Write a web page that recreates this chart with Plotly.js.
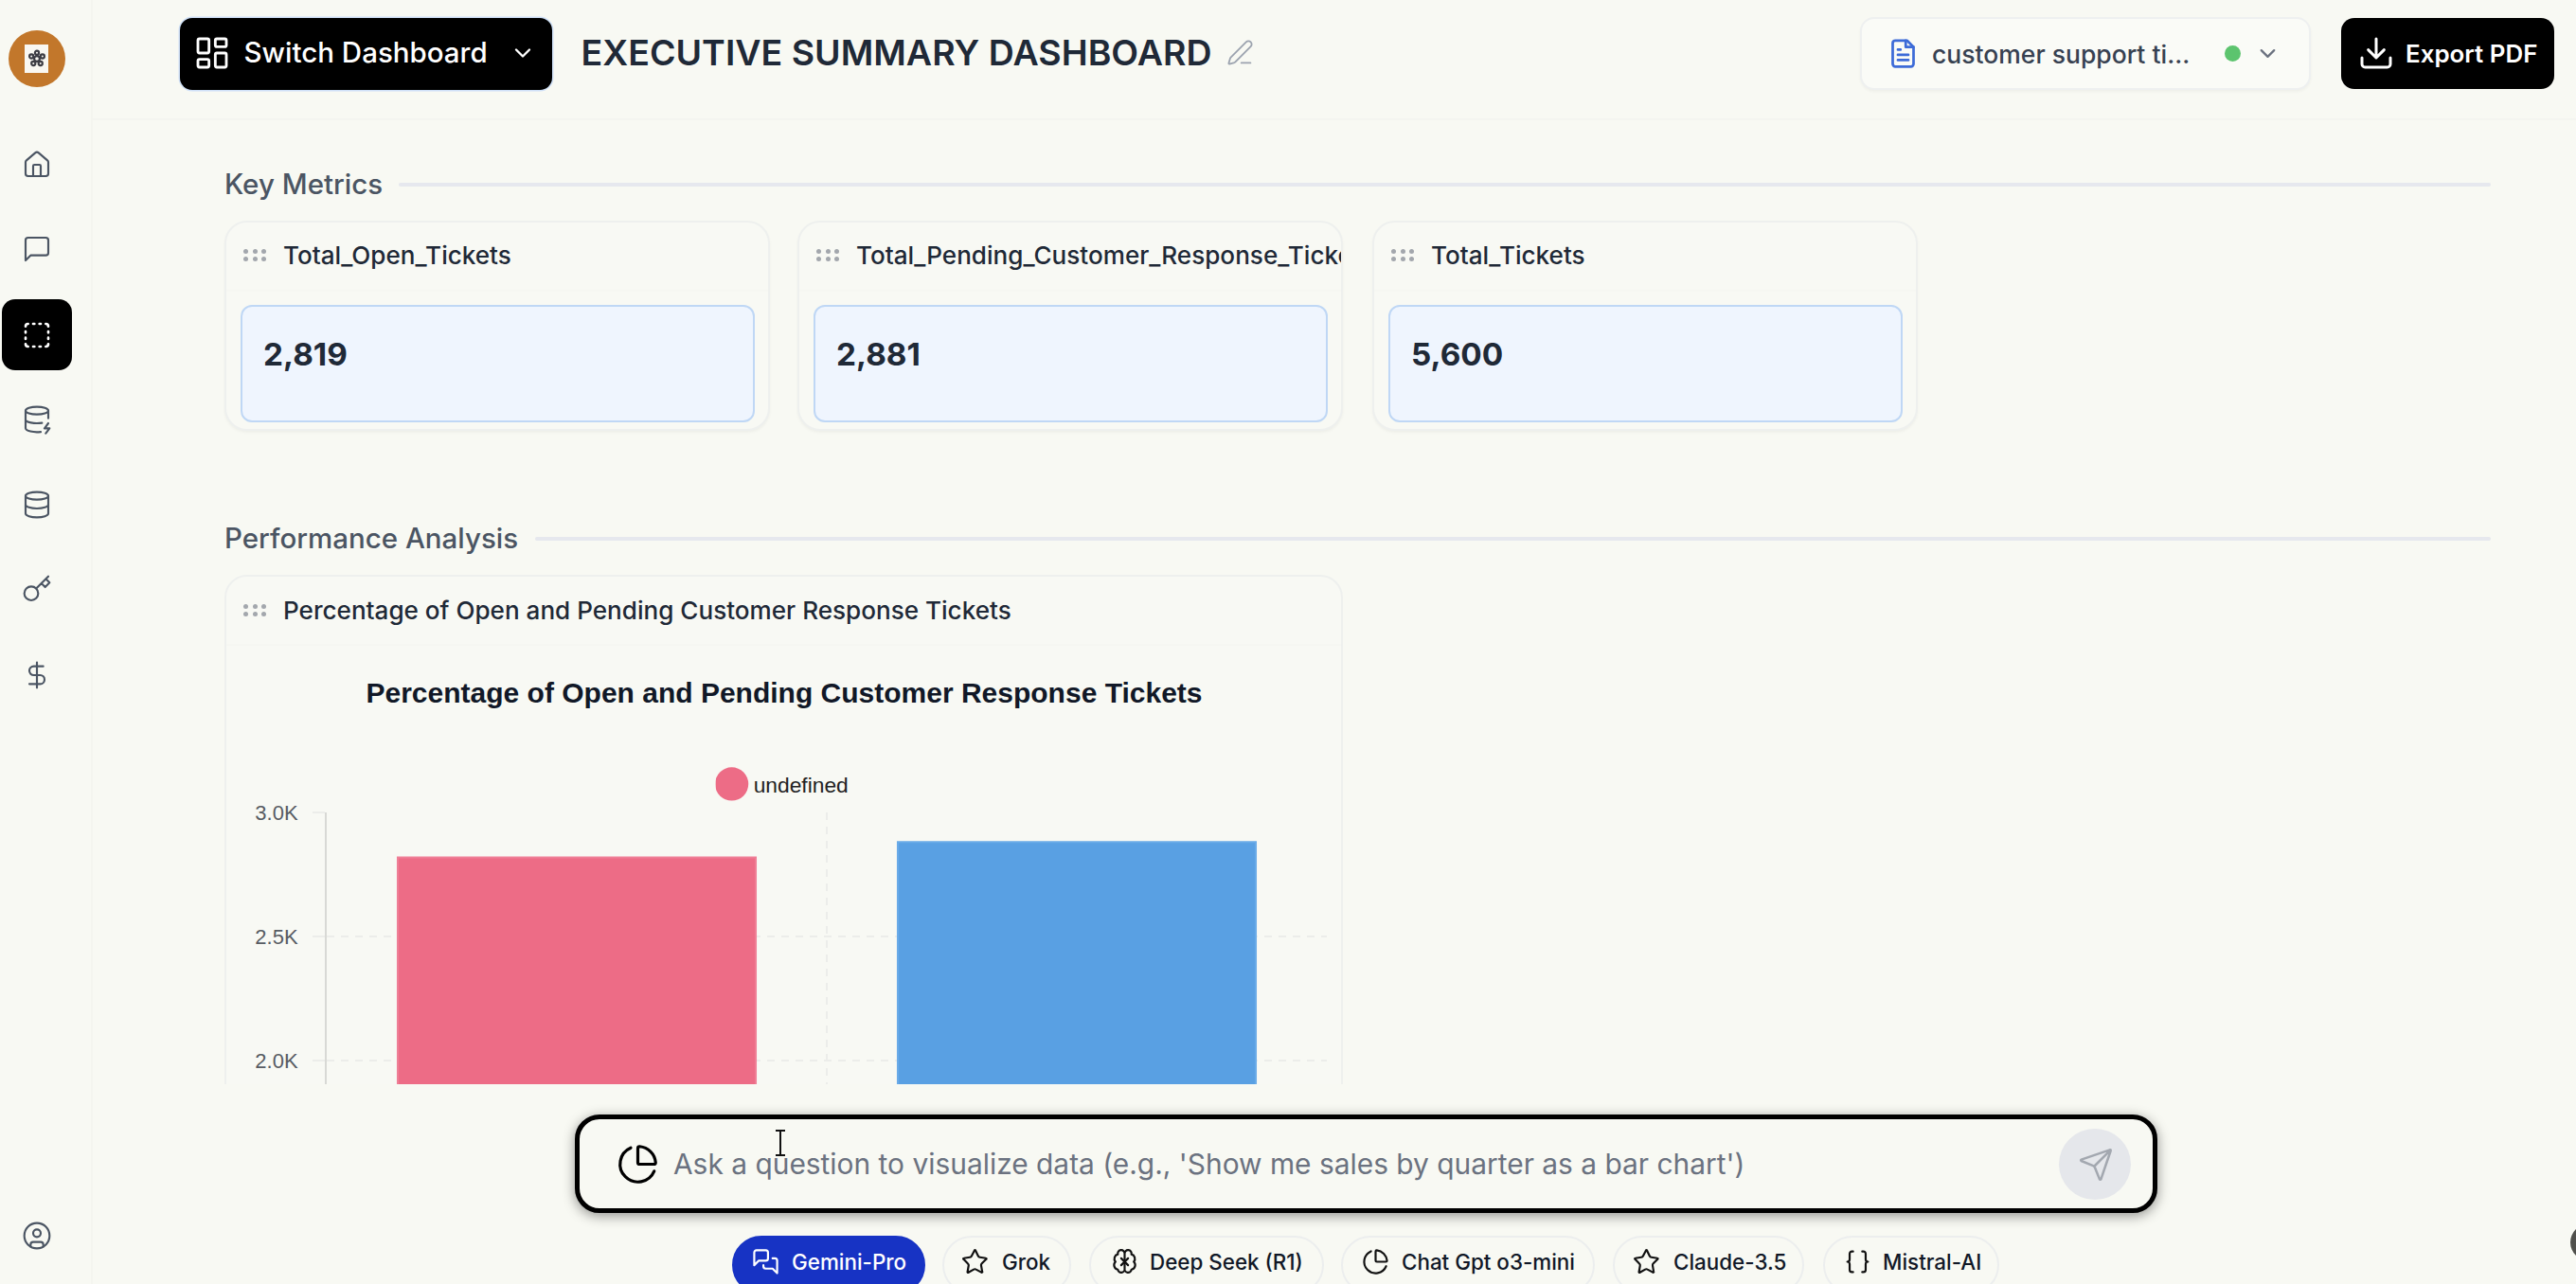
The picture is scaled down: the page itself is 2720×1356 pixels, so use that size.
<!DOCTYPE html>
<html><head><meta charset="utf-8"><title>Executive Summary Dashboard</title>
<script src="https://cdn.plot.ly/plotly-3.0.1.min.js"></script>
<style>
html,body{margin:0;padding:0;width:2720px;height:1356px;overflow:hidden;background:#f8f9f3;font-family:Inter,sans-serif;}
.a{position:absolute;box-sizing:border-box;}
.t{position:absolute;white-space:nowrap;line-height:1;transform:translateY(-50%);}
.ic{position:absolute;fill:none;stroke-linecap:round;stroke-linejoin:round;}
.card{position:absolute;box-sizing:border-box;border:2.5px solid #eef0ee;border-radius:24px;background:#f8f9f4;box-shadow:0 2px 3px rgba(0,0,0,.04);overflow:hidden;}
.chip{position:absolute;top:1305px;height:62px;box-sizing:border-box;border:2px solid #eceeee;border-radius:31px;}
</style></head><body>
<div class="a" style="left:0;top:0;width:98px;height:1356px;background:#f8f9f3;border-right:2px solid #f4f5ef"></div>
<div class="a" style="left:98px;top:125px;width:2622px;height:2px;background:#f4f5f0"></div>
<div id="chrome"></div>
<div id="scroll" class="a" style="left:0;top:127px;width:2720px;height:1018px;overflow:hidden">
  <div id="cards"></div>
  <div id="chartcard" class="card" style="left:237px;top:480px;width:1181px;height:1100px;box-shadow:none"></div>
  <div id="chart" class="a" style="left:238px;top:553px;width:1180px;height:465px"></div>
</div>
<div id="bottom"></div>
<script>
// ---- data ----
const metricNames = ["Total_Open_Tickets","Total_Pending_Customer_Response_Tickets","Total_Tickets"];
const metricValues = [2819,2881,5600];
const barCategories = ["Total_Open_Tickets","Total_Pending_Customer_Response_Tickets"];
const barValues = [2819,2881];
const barColors = ["#ed6c86","#59a0e3"];
const barEdges = ["#ef7f96","#6aabe8"];
const tickVals = [2000,2500,3000];
const tickText = ["2.0K","2.5K","3.0K"];
const chartTitle = "Percentage of Open and Pending Customer Response Tickets";
const legendName = "undefined";
const modelNames = ["Gemini-Pro","Grok","Deep Seek (R1)","Chat Gpt o3-mini","Claude-3.5","Mistral-AI"];

// ---- chrome helpers ----
function text(parent,s,x,y,size,weight,color,extra){const d=document.createElement('div');d.className='t';d.textContent=s;
 d.style.cssText=`left:${x}px;top:${y}px;font-size:${size}px;font-weight:${weight};color:${color};${extra||''}`;parent.appendChild(d);return d;}
function box(parent,x,y,w,h,css){const d=document.createElement('div');d.className='a';d.style.cssText=`left:${x}px;top:${y}px;width:${w}px;height:${h}px;${css}`;parent.appendChild(d);return d;}
const P={
 home:'<path d="M15 21v-8a1 1 0 0 0-1-1h-4a1 1 0 0 0-1 1v8"/><path d="M3 10a2 2 0 0 1 .7-1.5l7-6a2 2 0 0 1 2.6 0l7 6a2 2 0 0 1 .7 1.5v9a2 2 0 0 1-2 2H5a2 2 0 0 1-2-2z"/>',
 chat:'<path d="M21 15a2 2 0 0 1-2 2H7l-4 4V5a2 2 0 0 1 2-2h14a2 2 0 0 1 2 2z"/>',
 dashed:'<path d="M5 3a2 2 0 0 0-2 2M9 3h1M14 3h1M19 3a2 2 0 0 1 2 2M21 9v1M21 14v1M21 19a2 2 0 0 1-2 2M15 21h-1M10 21H9M5 21a2 2 0 0 1-2-2M3 15v-1M3 10V9"/>',
 dbzap:'<ellipse cx="12" cy="5" rx="9" ry="3"/><path d="M3 5v14a9 3 0 0 0 12 2.8M21 5v6M3 12a9 3 0 0 0 13 2.7M21 15l-3 4h4l-3 4"/>',
 db:'<ellipse cx="12" cy="5" rx="9" ry="3"/><path d="M3 5v14a9 3 0 0 0 18 0V5"/><path d="M3 12a9 3 0 0 0 18 0"/>',
 key:'<circle cx="7.5" cy="15.5" r="5.5"/><path d="m21 2-9.6 9.6M15.5 7.5l3 3L22 7l-3-3"/>',
 dollar:'<line x1="12" x2="12" y1="2" y2="22"/><path d="M17 5H9.5a3.5 3.5 0 0 0 0 7h5a3.5 3.5 0 0 1 0 7H6"/>',
 user:'<circle cx="12" cy="12" r="10"/><circle cx="12" cy="10" r="3"/><path d="M7 20.7v-1.7a2 2 0 0 1 2-2h6a2 2 0 0 1 2 2v1.7"/>',
 grid:'<rect x="3" y="3" width="7" height="9" rx="1"/><rect x="14" y="3" width="7" height="5" rx="1"/><rect x="14" y="12" width="7" height="9" rx="1"/><rect x="3" y="16" width="7" height="5" rx="1"/>',
 chev:'<path d="m6 9 6 6 6-6"/>',
 pencil:'<path d="M13 21h8"/><path d="M21.2 6.8a2.8 2.8 0 0 0-4-4L3.8 16.2a2 2 0 0 0-.5.8l-1.3 4.4a.5.5 0 0 0 .6.6l4.4-1.3a2 2 0 0 0 .8-.5z"/>',
 doc:'<path d="M15 2H6a2 2 0 0 0-2 2v16a2 2 0 0 0 2 2h12a2 2 0 0 0 2-2V7z"/><path d="M14 2v5h6M16 13H8M16 17H8M10 9H8"/>',
 download:'<path d="M21 15v4a2 2 0 0 1-2 2H5a2 2 0 0 1-2-2v-4M7 10l5 5 5-5M12 15V3"/>',
 pie:'<path d="M21 12c.6 0 1-.4 1-1a10 10 0 0 0-9-9c-.6 0-1 .5-1 1v8a1 1 0 0 0 1 1z"/><path d="M21.2 15.9A10 10 0 1 1 8 2.8"/>',
 send:'<path d="M14.5 21.7a.5.5 0 0 0 .9 0l6.5-19a.5.5 0 0 0-.6-.6l-19 6.5a.5.5 0 0 0 0 .9l7.9 3.2a2 2 0 0 1 1.1 1.1zM21.9 2.1 10.9 13.1"/>',
 msgs:'<path d="M14 9a2 2 0 0 1-2 2H6l-4 4V4a2 2 0 0 1 2-2h8a2 2 0 0 1 2 2z"/><path d="M18 9h2a2 2 0 0 1 2 2v11l-4-4h-6a2 2 0 0 1-2-2v-1"/>',
 star:'<path d="M11.5 2.3a.5.5 0 0 1 1 0l2.3 4.7a2 2 0 0 0 1.5 1.1l5.2.8a.5.5 0 0 1 .3.9l-3.8 3.7a2 2 0 0 0-.6 1.9l.9 5.2a.5.5 0 0 1-.8.6l-4.6-2.5a2 2 0 0 0-2 0L6.300 21.300a.5.5 0 0 1-.8-.6l.9-5.200a2 2 0 0 0-.6-1.900L2 9.800a.5.5 0 0 1 .3-.9l5.200-.8A2 2 0 0 0 9 7z"/>',
 brain:'<path d="M12 5a3 3 0 1 0-5.900.5A4 4 0 0 0 4 12a4 4 0 0 0 2 6.800A3 3 0 0 0 12 18zM12 5a3 3 0 1 1 5.900.5A4 4 0 0 1 20 12a4 4 0 0 1-2 6.800A3 3 0 0 1 12 18z"/><path d="M9 9l6 6M15 9l-6 6"/>',
 braces:'<path d="M8 3H7a2 2 0 0 0-2 2v5a2 2 0 0 1-2 2 2 2 0 0 1 2 2v5a2 2 0 0 0 2 2h1M16 21h1a2 2 0 0 0 2-2v-5c0-1.100.9-2 2-2a2 2 0 0 1-2-2V5a2 2 0 0 0-2-2h-1"/>',
 logo:'<circle cx="12" cy="12" r="3.500"/><circle cx="12" cy="4.500" r="2.500"/><circle cx="5" cy="9" r="2.500"/><circle cx="19" cy="9" r="2.500"/><circle cx="7.500" cy="18" r="2.500"/><circle cx="16.500" cy="18" r="2.500"/>'
};
function icon(parent,name,x,y,w,h,color,sw,extra){const ns='http://www.w3.org/2000/svg';const s=document.createElementNS(ns,'svg');
 s.setAttribute('class','ic');s.setAttribute('viewBox','0 0 24 24');s.setAttribute('preserveAspectRatio','xMidYMid meet');
 s.style.cssText=`left:${x}px;top:${y}px;width:${w}px;height:${h}px;stroke:${color};stroke-width:${sw};${extra||''}`;s.innerHTML=P[name];parent.appendChild(s);}
function dots(parent,x,y){for(let r=0;r<2;r++)for(let c=0;c<3;c++)box(parent,x+c*9.5,y+r*8,5,5,'border-radius:50%;background:#a3a7ad');}

// ---- sidebar + header ----
const C=document.getElementById('chrome');
box(C,8.5,32,60,60,'border-radius:50%;background:#c2772b');
box(C,26,46.5,25,30.5,'background:#f9f7f2');
icon(C,'logo',28.5,52,20,20,'#3c3c44',2.6);
[['home',173.5],['chat',263],['dbzap',443],['db',533],['key',622],['dollar',713],['user',1305]].forEach(([n,y])=>icon(C,n,23,y-16,32,32,'#4b5563',1.6));
box(C,2,316,74,75,'background:#000;border-radius:14px');
icon(C,'dashed',23,338,32,32,'#fff',2);

box(C,190,18.500,393,76,'background:#000;border-radius:13px;box-shadow:0 0 0 1.500px #cfe0f7');
icon(C,'grid',204,36,40,40,'#fff',1.7);
text(C,'Switch Dashboard',257.5,56,29.500,500,'#fff');
icon(C,'chev',538,42,28,28,'#fff',2);
text(C,'EXECUTIVE SUMMARY DASHBOARD',613.5,56,37.500,600,'#1f2937');
icon(C,'pencil',1295,41,29,29,'#9ca3af',1.5);
box(C,1964,17.500,476,77,'background:#fafbf7;border:2.500px solid #eef0f0;border-radius:15px;box-shadow:0 2px 3px rgba(0,0,0,.04)');
icon(C,'doc',1993,39.5,33,33,'#3d6bd8',2);
text(C,'customer support ti...',2040,56.5,26.500,500,'#374151');
box(C,2349,48,17,17,'border-radius:50%;background:#5cc46e');
icon(C,'chev',2381,43,27,27,'#6b7280',2);
box(C,2472,19,225,75,'background:#000;border-radius:14px');
icon(C,'download',2489,36,40,40,'#fff',1.8);
text(C,'Export PDF',2540,56.5,25.9,600,'#fff');

// ---- metric cards (inside the scroll area) ----
const S=document.getElementById('cards');
const off=127;
text(S,'Key Metrics',237,195-off,29.500,500,'#4b5563');
box(S,421,193-off,2209,4,'background:#e6e8ee;border-radius:2px');
text(S,'Performance Analysis',237,569-off,29.500,500,'#4b5563');
box(S,565,567-off,2065,4,'background:#e6e8ee;border-radius:2px');
const cardX=[237,842,1449];
const cardW=[575.5,576,575.5];
metricNames.forEach((n,i)=>{
 const c=document.createElement('div');c.className='card';c.style.cssText=`left:${cardX[i]}px;top:${233-off}px;width:${cardW[i]}px;height:222px`;S.appendChild(c);
 box(c,0,71,cardW[i],2,'background:#f6f7f2');
 dots(c,18,28);
 text(c,n,60,35,26.1,500,'#1f2937');
 box(c,15,87,cardW[i]-33,124,'background:#eff5fe;border:2px solid #bfd7f5;border-radius:12px');
 text(c,metricValues[i].toLocaleString('en-US'),39,140,33.3,700,'#1f2937');
});
const K=document.getElementById('chartcard');
box(K,0,71,1180,2,'background:#f6f7f2');
dots(K,18,29);
text(K,chartTitle,60,36,26.1,500,'#1f2937');

// ---- bottom prompt bar ----
const B=document.getElementById('bottom');
box(B,607,1177,1671,103.5,'background:#f8f9f3;border:5px solid #000;border-radius:26px;box-shadow:0 3px 13px rgba(0,0,0,.42)');
icon(B,'pie',651,1207,45,45,'#000',1.7);
text(B,"Ask a question to visualize data (e.g., 'Show me sales by quarter as a bar chart')",711,1230,29.9,400,'#6b7280');
box(B,2174,1192,76,75,'border-radius:50%;background:#e5e7eb');
icon(B,'send',2194,1211,38,38,'#a3a8b0',1.6);
box(B,823,1194,2,26,'background:#111');
box(B,819,1193,10,2,'background:#111');
box(B,819,1219,10,2,'background:#111');
const chipX=[773,995,1150,1416,1703,1925],chipW=[204,136,248,268,202,186];
const chipIcon=['msgs','star','brain','pie','star','braces'];
const iconX=[794,1015,1173,1438,1724,1947];
const textX=[836,1058,1214,1480,1767,1988];
modelNames.forEach((n,i)=>{
 const ch=document.createElement('div');ch.className='chip';ch.style.cssText=`left:${chipX[i]}px;width:${chipW[i]}px;`+(i==0?'background:#1733c4;border-color:#1733c4;':'');B.appendChild(ch);
 icon(B,chipIcon[i],iconX[i],1318,29,29,i==0?'#fff':'#111',1.8);
 text(B,n,textX[i],1333,22.4,500,i==0?'#fff':'#111827');
});
box(B,2714,1293,38,38,'border-radius:50%;background:#50504c');

// ---- Plotly chart ----
const bars={type:'bar',x:barCategories,y:barValues,width:0.716,showlegend:false,hoverinfo:'x+y',
 marker:{color:barColors,line:{color:barEdges,width:2}}};
const legendTrace={type:'scatter',mode:'markers',x:[barCategories[0]],y:[null],name:legendName,showlegend:true,
 marker:{color:barColors[0],size:16,symbol:'circle'}};
const grid='#ecedea';
const layout={
 width:1180,height:465,autosize:false,paper_bgcolor:'rgba(0,0,0,0)',plot_bgcolor:'rgba(0,0,0,0)',
 margin:{l:106.5,r:17,t:177.5,b:0,pad:0},
 font:{family:'Liberation Sans, Arial, sans-serif',color:'#555'},
 title:{text:chartTitle,x:0.5,xref:'container',xanchor:'center',y:1-51/465,yref:'container',yanchor:'middle',
  font:{family:'Liberation Sans, Arial, sans-serif',size:30,weight:700,color:'#111827'}},
 showlegend:true,
 legend:{orientation:'h',x:0.458,xanchor:'center',y:1.104,yanchor:'middle',font:{size:22.8,color:'#222',family:'Liberation Sans, Arial, sans-serif'},bgcolor:'rgba(0,0,0,0)'},
 xaxis:{type:'category',tickson:'boundaries',showgrid:true,gridcolor:grid,griddash:'8px,7px',gridwidth:1.5,range:[-0.5,1.5],
  showline:false,zeroline:false,ticks:'',showticklabels:false,fixedrange:true},
 yaxis:{range:[1905,3000],tickvals:tickVals,ticktext:tickText,showgrid:true,gridcolor:grid,griddash:'8px,7px',gridwidth:2,
  showline:true,linecolor:'#d8d9d5',linewidth:2,zeroline:false,ticks:'outside',ticklen:13,tickcolor:grid,tickwidth:2,
  ticklabelstandoff:11,tickfont:{size:22,color:'#575c63'},fixedrange:true}
};
Plotly.newPlot('chart',[bars,legendTrace],layout,{displayModeBar:false,responsive:false}).then(()=>{
 document.querySelectorAll('#chart .legendpoints .scatterpts').forEach(p=>{
  p.setAttribute('transform',(p.getAttribute('transform')||'')+' translate(-3,0) scale(2.2)');
 });
});
</script>
</body></html>
